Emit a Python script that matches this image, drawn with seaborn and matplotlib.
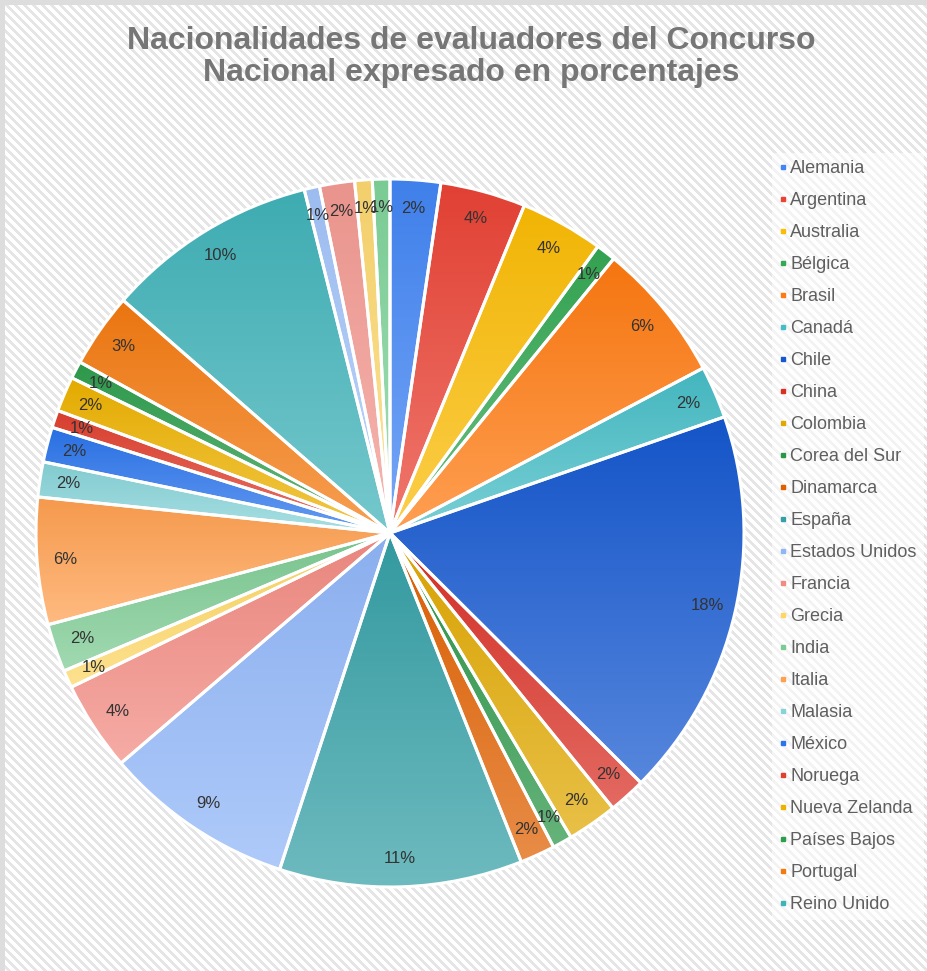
import numpy as np
import matplotlib
matplotlib.use("Agg")
import matplotlib.pyplot as plt
import seaborn as sns
from matplotlib.colors import to_rgb
from matplotlib.lines import Line2D

# ---------------- data (percentages) ----------------
paises = ["Alemania", "Argentina", "Australia", "Bélgica", "Brasil", "Canadá",
          "Chile", "China", "Colombia", "Corea del Sur", "Dinamarca", "España",
          "Estados Unidos", "Francia", "Grecia", "India", "Italia", "Malasia",
          "México", "Noruega", "Nueva Zelanda", "Países Bajos", "Portugal",
          "Reino Unido", "Singapur", "Suecia", "Suiza", "Uruguay"]
porcentajes = [2.3, 3.9, 3.8, 0.9, 6.4, 2.4, 17.8, 1.7, 2.3, 0.9, 1.6, 11.1,
               8.7, 4.1, 0.8, 2.2, 5.8, 1.6, 1.6, 0.8, 1.6, 0.8, 3.4, 9.7,
               0.7, 1.6, 0.8, 0.8]
colores = ["#4285F4", "#EA4335", "#FBBC04", "#34A853", "#FF7A10", "#46BDC6",
           "#1558D0", "#D93025", "#E0A800", "#2A9647", "#E06000", "#35A0A6",
           "#90B6F8", "#F28B82", "#FDD663", "#7DCB93", "#FFA050", "#86D3D8",
           "#2A74EC", "#E0402F", "#EDB200", "#2E9E4D", "#F47A10", "#40B3B9",
           "#A3C4F9", "#F39A92", "#FDD870", "#7FD39A"]
n_leyenda = 24
titulo = "Nacionalidades de evaluadores del Concurso\nNacional expresado en porcentajes"

# ---------------- style ----------------
sns.set_theme(style="white")
plt.rcParams['font.family'] = ['Liberation Sans', 'DejaVu Sans']

W, H = 928, 971
fig = plt.figure(figsize=(W / 100, H / 100), dpi=100)

# striped background
yy, xx = np.mgrid[0:H, 0:W]
bg = np.ones((H, W, 3))
bg[((xx - yy) % 9) < 4] = 0.9
bg[:5, :] = 0.87
bg[:, :5] = 0.87
bgax = fig.add_axes([0, 0, 1, 1], zorder=-1)
bgax.imshow(bg, aspect='auto', interpolation='nearest')
bgax.axis('off')

# pie axes
cx, cy, R = 390, 533, 354
lim = 1.01
side = 2 * R * lim
ax = fig.add_axes([(cx - R * lim) / W, (H - cy - R * lim) / H, side / W, side / H])
ax.patch.set_alpha(0)

wedges, texts, autotexts = ax.pie(
    porcentajes, startangle=90, counterclock=False, colors=colores,
    autopct=lambda p: f"{p:.0f}%", pctdistance=0.92,
    wedgeprops=dict(edgecolor='white', linewidth=2.2),
    textprops=dict(fontsize=12, color='#333333'))

def mix(c, other, t):
    c = np.array(to_rgb(c)); o = np.array(to_rgb(other))
    return c * (1 - t) + o * t

for w, col in zip(wedges, colores):
    t = np.radians(np.linspace(w.theta1, w.theta2, 200))
    xs = np.concatenate([[0], np.cos(t)])
    ys = np.concatenate([[0], np.sin(t)])
    top = mix(col, 'black', 0.04)
    bot = mix(col, 'white', 0.28)
    g = np.linspace(0, 1, 256)[:, None, None]
    grad = top[None, None, :] * (1 - g) + bot[None, None, :] * g
    im = ax.imshow(grad, extent=[xs.min(), xs.max(), ys.min(), ys.max()],
                   origin='upper', aspect='auto', interpolation='bilinear', zorder=1)
    im.set_clip_path(w)
    w.set_facecolor('none')
    w.set_zorder(2)
for a in autotexts:
    a.set_zorder(3)

ax.set_aspect('equal')
ax.set_xlim(-lim, lim)
ax.set_ylim(-lim, lim)
ax.axis('off')

# title
fig.text(471 / W, 1 - 57 / H, titulo, ha='center', va='center', fontsize=23,
         fontweight='bold', color='#767676', linespacing=1.1)

# legend
handles = [Line2D([], [], marker='s', linestyle='none', markersize=3.5,
                  markerfacecolor=c, markeredgecolor=c) for c in colores[:n_leyenda]]
leg = fig.legend(handles, paises[:n_leyenda], loc='upper left',
                 bbox_to_anchor=(772 / W, 1 - 153 / H), frameon=True,
                 facecolor='white', framealpha=0.55, edgecolor='none',
                 fancybox=False, fontsize=13, labelcolor='#5f5f5f',
                 handlelength=0.4, handletextpad=0.2, labelspacing=0.83,
                 borderpad=0.4, borderaxespad=0)

fig.savefig("out.png", dpi=100)
